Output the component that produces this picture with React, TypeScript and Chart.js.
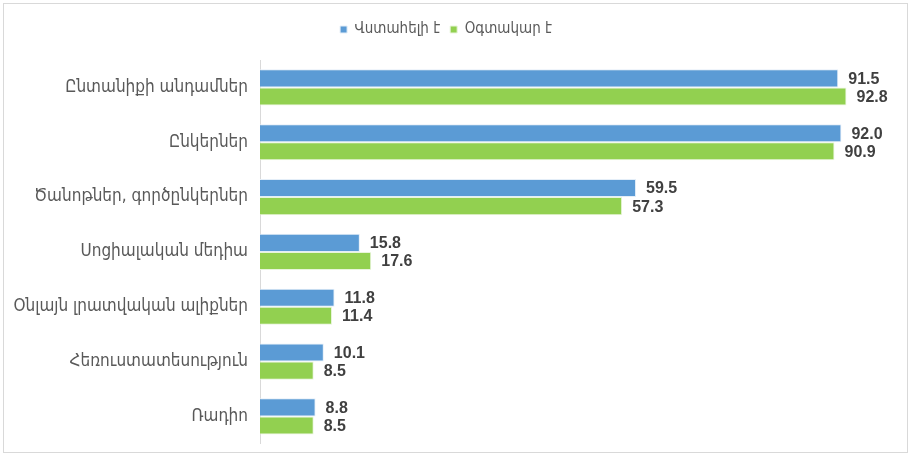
import React, { useEffect, useRef } from "react";
import { Chart, registerables } from "chart.js";

Chart.register(...registerables);

const categories = [
  "Ընտանիքի անդամներ",
  "Ընկերներ",
  "Ծանոթներ, գործընկերներ",
  "Սոցիալական մեդիա",
  "Օնլայն լրատվական ալիքներ",
  "Հեռուստատեսություն",
  "Ռադիո",
];
const trustworthy = [91.5, 92.0, 59.5, 15.8, 11.8, 10.1, 8.8];
const useful = [92.8, 90.9, 57.3, 17.6, 11.4, 8.5, 8.5];
const seriesNames = ["Վստահելի է", "Օգտակար է"];

const labelFont = "'DejaVu Sans Condensed', 'DejaVu Sans', sans-serif";
const numFont = "'Liberation Sans', Arial, sans-serif";

const valueLabels = {
  id: "valueLabels",
  afterDatasetsDraw(chart: any) {
    const ctx = chart.ctx;
    ctx.save();
    ctx.font = `bold 16px ${numFont}`;
    ctx.fillStyle = "#404040";
    ctx.textAlign = "left";
    ctx.textBaseline = "middle";
    chart.data.datasets.forEach((ds: any, di: number) => {
      const meta = chart.getDatasetMeta(di);
      meta.data.forEach((el: any, i: number) => {
        ctx.fillText(Number(ds.data[i]).toFixed(1), el.x + 10, el.y + 1);
      });
    });
    ctx.restore();
  },
};

const legendSpacing = {
  id: "legendSpacing",
  beforeInit(chart: any) {
    const legend = chart.legend;
    if (!legend) return;
    const origFit = legend.fit;
    legend.fit = function () {
      origFit.call(this);
      this.height += 13;
    };
  },
};

export default function App() {
  const ref = useRef<HTMLCanvasElement>(null);
  useEffect(() => {
    document.body.style.margin = "0";
    const chart = new Chart(ref.current!, {
      type: "bar",
      data: {
        labels: categories,
        datasets: [
          {
            label: seriesNames[0],
            data: trustworthy,
            backgroundColor: "#5B9BD5",
            borderColor: "#E4EEF8",
            borderWidth: 1,
            categoryPercentage: 0.66,
            barPercentage: 1,
          },
          {
            label: seriesNames[1],
            data: useful,
            backgroundColor: "#92D050",
            borderColor: "#E9F5DC",
            borderWidth: 1,
            categoryPercentage: 0.66,
            barPercentage: 1,
          },
        ],
      },
      options: {
        indexAxis: "y",
        animation: false,
        responsive: false,
        maintainAspectRatio: false,
        layout: { padding: { top: 12, right: 19, bottom: 14, left: 0 } },
        plugins: {
          legend: {
            display: true,
            position: "top",
            labels: {
              boxWidth: 7,
              boxHeight: 7,
              color: "#595959",
              font: { family: labelFont, size: 15 },
              padding: 10,
            },
          },
          tooltip: { enabled: false },
        },
        scales: {
          x: {
            display: false,
            min: 0,
            max: 100,
          },
          y: {
            grid: { display: false },
            border: { display: true, color: "#D9D9D9", width: 1 },
            ticks: {
              color: "#595959",
              font: { family: labelFont, size: 17 },
              padding: 4,
            },
            afterFit(scale: any) {
              scale.width = 260;
            },
          },
        },
      },
      plugins: [valueLabels, legendSpacing],
    });
    return () => chart.destroy();
  }, []);
  return (
    <div style={{ position: "relative", width: 911, height: 458, background: "#fff" }}>
      <div
        style={{
          position: "absolute",
          left: 3,
          top: 3,
          width: 903,
          height: 448,
          border: "1px solid #D9D9D9",
          pointerEvents: "none",
        }}
      />
      <canvas ref={ref} width={911} height={458} style={{ position: "absolute", left: 0, top: 0 }} />
    </div>
  );
}
